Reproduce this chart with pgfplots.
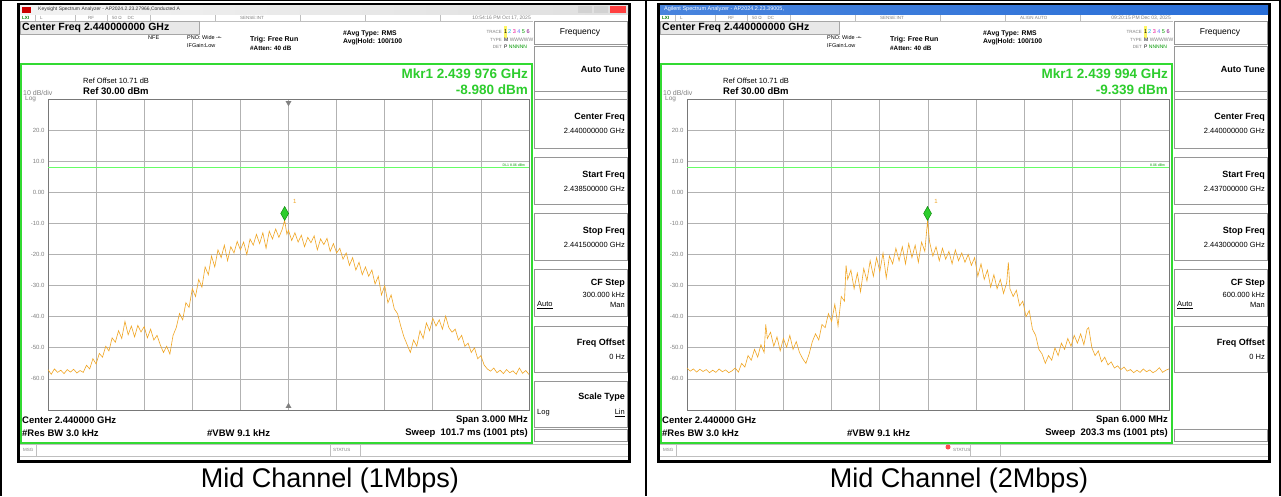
\documentclass[border=0pt]{standalone}
\usepackage{pgfplots}
\pgfplotsset{compat=1.18}
\usepackage{pgfplotstable}
\usepackage{fontspec}
\setmainfont{Liberation Sans}
\definecolor{trace}{RGB}{240,165,35}
\definecolor{frameg}{RGB}{50,218,50}
\definecolor{mkrg}{RGB}{45,205,45}
\definecolor{gridc}{RGB}{178,178,178}
\definecolor{axc}{RGB}{120,120,120}
\definecolor{keyb}{RGB}{150,150,150}
\definecolor{titleblue}{RGB}{40,110,215}
\newcommand\fs[1]{\fontsize{#1}{#1}\selectfont}

\pgfplotstableread{
f db
-1.50 -57.0
-1.48 -58.5
-1.46 -56.8
-1.44 -57.9
-1.42 -57.2
-1.40 -58.3
-1.38 -57.0
-1.36 -57.8
-1.34 -56.9
-1.32 -58.1
-1.30 -57.3
-1.28 -57.9
-1.26 -55.6
-1.24 -56.8
-1.22 -53.5
-1.20 -55.2
-1.18 -51.8
-1.16 -53.0
-1.14 -49.5
-1.12 -51.0
-1.10 -46.8
-1.08 -48.2
-1.06 -44.5
-1.04 -47.0
-1.02 -41.5
-1.00 -45.8
-0.98 -43.0
-0.96 -46.5
-0.94 -42.8
-0.92 -44.9
-0.90 -43.2
-0.88 -46.8
-0.86 -44.0
-0.84 -47.5
-0.82 -46.0
-0.80 -49.0
-0.78 -51.5
-0.76 -49.5
-0.74 -52.0
-0.72 -46.0
-0.70 -43.5
-0.68 -39.0
-0.66 -41.0
-0.64 -35.5
-0.62 -37.0
-0.60 -31.0
-0.58 -33.5
-0.56 -28.0
-0.54 -30.5
-0.52 -24.0
-0.50 -26.5
-0.48 -20.5
-0.46 -24.0
-0.44 -18.5
-0.42 -21.0
-0.40 -17.0
-0.38 -22.0
-0.36 -17.5
-0.34 -19.5
-0.32 -15.8
-0.30 -18.5
-0.28 -16.0
-0.26 -20.0
-0.24 -15.0
-0.22 -17.0
-0.20 -13.5
-0.18 -16.5
-0.16 -13.0
-0.14 -18.0
-0.12 -12.5
-0.10 -15.0
-0.08 -11.8
-0.06 -14.5
-0.04 -12.0
-0.024 -9.0
-0.01 -13.5
0.00 -12.2
0.02 -15.5
0.04 -13.0
0.06 -16.0
0.08 -13.8
0.10 -17.5
0.12 -14.5
0.14 -16.2
0.16 -14.0
0.18 -18.5
0.20 -15.0
0.22 -16.8
0.24 -14.8
0.26 -19.0
0.28 -16.5
0.30 -19.5
0.32 -18.0
0.34 -21.5
0.36 -19.5
0.38 -23.5
0.40 -21.0
0.42 -25.0
0.44 -22.5
0.46 -26.5
0.48 -24.0
0.50 -27.0
0.52 -25.0
0.54 -29.5
0.56 -27.0
0.58 -33.0
0.60 -30.0
0.62 -35.5
0.64 -33.0
0.66 -37.5
0.68 -39.0
0.70 -43.0
0.72 -46.5
0.74 -49.0
0.76 -51.5
0.78 -47.5
0.80 -49.5
0.82 -44.5
0.84 -47.0
0.86 -42.0
0.88 -44.5
0.90 -40.5
0.92 -43.0
0.94 -41.0
0.96 -44.0
0.98 -39.8
1.00 -43.5
1.02 -45.0
1.04 -44.0
1.06 -47.5
1.08 -46.0
1.10 -49.5
1.12 -48.5
1.14 -51.5
1.16 -50.0
1.18 -53.5
1.20 -52.5
1.22 -55.5
1.24 -56.8
1.26 -57.5
1.28 -56.5
1.30 -58.0
1.32 -57.2
1.34 -58.3
1.36 -57.0
1.38 -58.0
1.40 -57.4
1.42 -58.5
1.44 -56.5
1.46 -58.2
1.48 -57.3
1.50 -58.6
}\traceA

\pgfplotstableread{
f db
-3.00 -56.5
-2.96 -57.5
-2.92 -56.8
-2.88 -57.8
-2.84 -56.9
-2.80 -57.6
-2.76 -57.0
-2.72 -58.0
-2.68 -57.2
-2.64 -57.9
-2.60 -56.8
-2.56 -57.7
-2.52 -57.1
-2.48 -58.0
-2.44 -57.4
-2.40 -56.5
-2.36 -57.8
-2.32 -55.0
-2.28 -56.2
-2.24 -52.5
-2.20 -54.0
-2.16 -50.5
-2.12 -53.0
-2.08 -49.0
-2.04 -51.5
-2.02 -42.5
-2.00 -47.0
-1.96 -45.0
-1.92 -49.5
-1.88 -46.5
-1.84 -51.0
-1.80 -47.0
-1.76 -49.8
-1.72 -46.0
-1.68 -50.5
-1.64 -48.0
-1.60 -51.5
-1.56 -53.5
-1.52 -55.0
-1.48 -52.0
-1.44 -48.0
-1.40 -45.5
-1.36 -47.5
-1.32 -42.5
-1.28 -43.5
-1.24 -39.0
-1.20 -41.5
-1.16 -36.0
-1.12 -43.0
-1.08 -33.5
-1.04 -35.0
-1.02 -23.5
-1.00 -28.0
-0.96 -25.0
-0.92 -31.0
-0.88 -26.0
-0.84 -32.0
-0.80 -24.5
-0.76 -28.5
-0.72 -22.0
-0.68 -27.0
-0.64 -21.0
-0.60 -25.5
-0.56 -19.5
-0.52 -27.5
-0.48 -20.5
-0.44 -23.0
-0.40 -18.0
-0.36 -22.0
-0.32 -17.5
-0.28 -23.0
-0.24 -16.5
-0.20 -21.0
-0.16 -17.0
-0.12 -22.5
-0.08 -16.0
-0.04 -19.0
-0.006 -9.3
0.02 -16.0
0.06 -20.5
0.10 -17.5
0.14 -22.0
0.18 -18.0
0.22 -21.5
0.26 -19.0
0.30 -23.0
0.34 -18.5
0.38 -22.0
0.42 -19.5
0.46 -22.5
0.50 -20.0
0.54 -23.5
0.58 -21.0
0.62 -27.0
0.66 -23.0
0.70 -28.0
0.74 -25.0
0.78 -30.5
0.82 -26.5
0.86 -31.0
0.90 -28.0
0.94 -32.5
0.98 -29.0
1.00 -22.5
1.02 -31.0
1.06 -33.5
1.10 -31.5
1.14 -36.5
1.18 -35.0
1.22 -40.0
1.26 -38.0
1.30 -44.0
1.34 -46.0
1.38 -50.5
1.42 -52.0
1.46 -55.0
1.50 -52.5
1.54 -54.0
1.58 -50.0
1.62 -52.5
1.66 -48.5
1.70 -50.5
1.74 -47.0
1.78 -49.5
1.82 -46.0
1.86 -48.5
1.90 -45.5
1.94 -49.0
1.98 -44.0
2.00 -43.5
2.04 -50.0
2.08 -52.5
2.12 -51.0
2.16 -54.5
2.20 -53.0
2.24 -55.5
2.28 -54.5
2.32 -56.5
2.36 -55.8
2.40 -57.0
2.44 -56.2
2.48 -57.5
2.52 -57.0
2.56 -58.0
2.60 -57.2
2.64 -57.9
2.68 -56.8
2.72 -57.7
2.76 -57.1
2.80 -58.0
2.84 -57.4
2.88 -56.4
2.92 -57.9
2.96 -57.2
3.00 -56.8
}\traceB

\pgfplotsset{sa/.style={anchor=north west, width=481pt, height=311pt, scale only axis,
  ymin=-70, ymax=30, ytick={-60,-50,-40,-30,-20,-10,0,10,20},
  yticklabels={-60.0,-50.0,-40.0,-30.0,-20.0,-10.0,0.00,10.0,20.0},
  yticklabel style={font=\fs{6}, text=gray},
  grid=major, grid style={gridc, line width=0.7pt},
  axis line style={axc, line width=0.8pt}, major tick length=0pt,
  xticklabels={}, clip=false}}

\newcommand\chrome[1]{%
\begin{scope}[shift={(#1,0)}]
\fill[black] (17,3) rectangle (631,463);
\fill[white] (20,5) rectangle (628,460);
\draw[gray!50, line width=0.5pt] (20,14.5) -- (628,14.5);
\draw[gray!50, line width=0.5pt] (20,21) -- (533,21);
\foreach \xx in {35,75,107,150,215,300,365,440} \draw[gray!50,line width=0.4pt] (\xx,14.5)--(\xx,21);
\node[anchor=west, font=\fs{4.5}\bfseries, text=green!50!black] at (22,17.8) {LXI};
\node[anchor=west, font=\fs{4.5}, text=gray] at (40,17.8) {L};
\node[anchor=west, font=\fs{4.5}, text=gray] at (88,17.8) {RF};
\node[anchor=west, font=\fs{4.5}, text=gray] at (112,17.8) {50 Ω \quad DC};
\node[anchor=west, font=\fs{4.5}, text=gray] at (240,17.8) {SENSE:INT};
\draw[gray!70, fill=gray!18, line width=0.6pt] (20.5,21.5) rectangle (199,34);
\node[anchor=west, font=\fs{10.5}\bfseries] at (22,28) {Center Freq 2.440000000 GHz};
\node[anchor=west, font=\fs{5.5}] at (187,38) {PNO: Wide -•-};
\node[anchor=west, font=\fs{5.5}] at (187,46) {IFGain:Low};
\node[anchor=west, font=\fs{7}\bfseries] at (250,40) {Trig: Free Run};
\node[anchor=west, font=\fs{6.3}\bfseries] at (250,48) {\#Atten: 40 dB};
\node[anchor=west, font=\fs{6.8}\bfseries] at (343,34) {\#Avg Type: RMS};
\node[anchor=west, font=\fs{6.8}\bfseries] at (343,42) {Avg|Hold: 100/100};
\node[anchor=east, font=\fs{4.5}, text=gray] at (502,32) {TRACE};
\node[anchor=west, font=\fs{5.5}] at (504,32) {\colorbox{yellow!60}{\kern-3pt\strut 1\kern-3pt}\,\textcolor{cyan}{2} \textcolor{magenta}{3} \textcolor{blue!60}{4} \textcolor{green!60!black}{5} \textcolor{violet}{6}};
\node[anchor=east, font=\fs{4.5}, text=gray] at (502,40) {TYPE};
\node[anchor=west, font=\fs{5}] at (504,40) {M \textcolor{gray}{WWWWW}};
\node[anchor=east, font=\fs{4.5}, text=gray] at (502,47) {DET};
\node[anchor=west, font=\fs{5}] at (504,47) {P \textcolor{green!60!black}{NNNNN}};
\draw[frameg, line width=2pt] (21,64) rectangle (532,443);
\node[anchor=west, font=\fs{7.5}] at (83,81) {Ref Offset 10.71 dB};
\node[anchor=west, font=\fs{9.5}\bfseries] at (83,91) {Ref 30.00 dBm};
\node[anchor=west, font=\fs{7}, text=gray] at (23,93) {10 dB/div};
\node[anchor=west, font=\fs{6.5}, text=gray] at (25,99) {Log};
\node[anchor=west, font=\fs{9.5}\bfseries] at (22,420) {Center 2.440000 GHz};
\node[anchor=west, font=\fs{9.5}\bfseries] at (22,433) {\#Res BW 3.0 kHz};
\node[anchor=west, font=\fs{9.5}\bfseries] at (207,433) {\#VBW 9.1 kHz};
\draw[gray!50, line width=0.5pt] (20,444.5) -- (628,444.5) (20,456) -- (628,456) (36,444.5)--(36,456) (330,444.5)--(330,456) (360,444.5)--(360,456);
\node[anchor=west, font=\fs{4.5}, text=gray] at (23,450) {MSG};
\foreach \ya/\yb in {21/44,46/91,91/99,99/148,157/204,213/260,269/316,326/372,429/441}
  \draw[keyb, line width=1pt] (534,\ya) rectangle (627,\yb);
\node[font=\fs{8.5}] at (580,32.5) {Frequency};
\node[anchor=east, font=\fs{9}\bfseries] at (625,69) {Auto Tune};
\node[anchor=east, font=\fs{9}\bfseries] at (625,117) {Center Freq};
\node[anchor=east, font=\fs{7.5}] at (625,131) {2.440000000 GHz};
\node[anchor=east, font=\fs{9}\bfseries] at (625,175) {Start Freq};
\node[anchor=east, font=\fs{9}\bfseries] at (625,231) {Stop Freq};
\node[anchor=east, font=\fs{9}\bfseries] at (625,283) {CF Step};
\node[anchor=west, font=\fs{7.5}] at (537,305) {\underline{Auto}};
\node[anchor=east, font=\fs{7.5}] at (625,305) {Man};
\node[anchor=east, font=\fs{9}\bfseries] at (625,343) {Freq Offset};
\node[anchor=east, font=\fs{7.5}] at (625,357) {0 Hz};
\end{scope}}

\begin{document}
\begin{tikzpicture}
\begin{scope}[x=1pt,y=-1pt, every node/.style={inner sep=0pt}]
\useasboundingbox (0,0) rectangle (1281,496);
\fill[white] (0,0) rectangle (1281,496);
\draw[black, line width=1.2pt] (0,0.6) -- (1281,0.6);
\draw[black, line width=1.2pt] (1,0) -- (1,496) (646,0) -- (646,496) (1280,0) -- (1280,496);
% ---------- left screenshot
\chrome{0}
\shade[left color=gray!10, right color=gray!25] (20,5) rectangle (628,14);
\fill[red!80!black] (22,6.5) rectangle (31,12.5);
\node[anchor=west, font=\fs{5}, text=black!80] at (38,9.5) {Keysight Spectrum Analyzer - AP2024.2.23.27966,Conducted A};
\fill[gray!35] (578,6) rectangle (592,12.5);
\fill[gray!35] (594,6) rectangle (608,12.5);
\fill[red!75] (610,6) rectangle (626,12.5);
\node[anchor=west, font=\fs{5.5}] at (148,38) {NFE};
\node[anchor=east, font=\fs{5}, text=gray] at (531,17.8) {10:54:16 PM Oct 17, 2025};
\node[anchor=east, font=\fs{13.5}\bfseries, text=mkrg] at (528,74) {Mkr1 2.439 976 GHz};
\node[anchor=east, font=\fs{13.5}\bfseries, text=mkrg] at (528,89.5) {-8.980 dBm};
\node[anchor=east, font=\fs{9.5}\bfseries] at (528,420) {Span 3.000 MHz};
\node[anchor=east, font=\fs{9.5}\bfseries] at (528,433) {Sweep \ 101.7 ms (1001 pts)};
\node[anchor=west, font=\fs{4.5}, text=gray] at (333,450) {STATUS};
\node[anchor=east, font=\fs{7.5}] at (625,189) {2.438500000 GHz};
\node[anchor=east, font=\fs{7.5}] at (625,245) {2.441500000 GHz};
\node[anchor=east, font=\fs{7.5}] at (625,295) {300.000 kHz};
\draw[keyb, line width=1pt] (534,381) rectangle (627,427);
\node[anchor=east, font=\fs{9}\bfseries] at (625,397) {Scale Type};
\node[anchor=west, font=\fs{7.5}] at (537,413) {Log};
\node[anchor=east, font=\fs{7.5}] at (625,413) {\underline{Lin}};
% ---------- right screenshot
\chrome{640}
\shade[left color=titleblue!85, right color=titleblue] (660,5) rectangle (1268,14);
\node[anchor=west, font=\fs{5.5}, text=white] at (664,9.5) {Agilent Spectrum Analyzer - AP2024.2.23.39005,};
\node[anchor=west, font=\fs{4.5}, text=gray] at (1020,17.8) {ALIGN AUTO};
\node[anchor=east, font=\fs{5}, text=gray] at (1171,17.8) {09:20:15 PM Dec 03, 2025};
\node[anchor=east, font=\fs{13.5}\bfseries, text=mkrg] at (1168,74) {Mkr1 2.439 994 GHz};
\node[anchor=east, font=\fs{13.5}\bfseries, text=mkrg] at (1168,89.5) {-9.339 dBm};
\node[anchor=east, font=\fs{9.5}\bfseries] at (1168,420) {Span 6.000 MHz};
\node[anchor=east, font=\fs{9.5}\bfseries] at (1168,433) {Sweep \ 203.3 ms (1001 pts)};
\fill[red!70] (948,447) circle (2.5);
\node[anchor=west, font=\fs{4.5}, text=gray] at (953,450) {STATUS};
\node[anchor=east, font=\fs{7.5}] at (1265,189) {2.437000000 GHz};
\node[anchor=east, font=\fs{7.5}] at (1265,245) {2.443000000 GHz};
\node[anchor=east, font=\fs{7.5}] at (1265,295) {600.000 kHz};
% captions
\node[anchor=base, font=\fs{27}] at (330,487) {Mid Channel (1Mbps)};
\node[anchor=base, font=\fs{27}] at (959,487) {Mid Channel (2Mbps)};
\end{scope}

\begin{axis}[sa, at={(48pt,-99pt)}, xmin=-1.5, xmax=1.5,
  xtick={-1.2,-0.9,-0.6,-0.3,0,0.3,0.6,0.9,1.2}]
\addplot[green!60, line width=0.5pt, forget plot] coordinates {(-1.5,8.06) (1.5,8.06)};
\addplot[trace, line width=0.6pt] table[x=f, y=db] {\traceA};
\addplot[only marks, mark=diamond*, mark size=7pt, mark options={xscale=0.75, fill=mkrg, draw=green!50!black, line width=0.4pt}] coordinates {(-0.024,-6.8)};
\addplot[only marks, mark=triangle*, mark size=3pt, mark options={rotate=180, fill=gray, draw=gray}] coordinates {(0,28.8)};
\addplot[only marks, mark=triangle*, mark size=3pt, mark options={fill=gray, draw=gray}] coordinates {(0,-68.8)};
\node[font=\fs{6}, text=trace, inner sep=0pt] at (axis cs:0.04,-3) {1};
\node[font=\fs{3.5}, text=green!60!black, anchor=south east, inner sep=0.5pt] at (axis cs:1.48,8.2) {DL1 8.06 dBm};
\end{axis}

\begin{axis}[sa, at={(687pt,-99pt)}, width=482pt, xmin=-3, xmax=3,
  xtick={-2.4,-1.8,-1.2,-0.6,0,0.6,1.2,1.8,2.4}]
\addplot[green!60, line width=0.5pt, forget plot] coordinates {(-3,8.06) (3,8.06)};
\addplot[trace, line width=0.6pt] table[x=f, y=db] {\traceB};
\addplot[only marks, mark=diamond*, mark size=7pt, mark options={xscale=0.75, fill=mkrg, draw=green!50!black, line width=0.4pt}] coordinates {(-0.006,-6.8)};
\node[font=\fs{6}, text=trace, inner sep=0pt] at (axis cs:0.1,-3) {1};
\node[font=\fs{3.5}, text=green!60!black, anchor=south east, inner sep=0.5pt] at (axis cs:2.96,8.2) {8.06 dBm};
\end{axis}
\end{tikzpicture}
\end{document}
